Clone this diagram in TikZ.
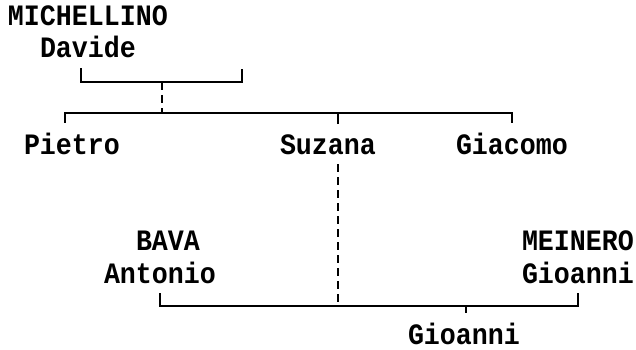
\documentclass[tikz,border=0pt]{standalone}
\usepackage{fontspec}
\setmonofont[FakeStretch = 0.9]{Liberation Mono}
\usetikzlibrary{positioning}
\tikzset{
  person/.style = {font = \fontsize{29.6}{34}\selectfont\ttfamily\bfseries,
    inner sep = 0, outer xsep = 0, outer ysep = 10pt, anchor = base west},
  bond/.style = {line width = 1.2pt},
  descent/.style = {bond, dash pattern = on 8pt off 5pt}
}

\begin{document}
\begin{tikzpicture} [x = 1pt, y = 1pt]
\useasboundingbox (0, 0) rectangle (636, -350);

%% First family
\node [person] (michellino) at (8, -26) {MICHELLINO};
\node [person, below right = 32pt and 32pt of michellino.base west, anchor = base west] (davide) {Davide};
\coordinate (spouseA) at (242, -69);
\coordinate (famA) at (162, -82);
\coordinate (sibs) at (162, -113);

%% Children
\node [person] (pietro) at (24, -154) {Pietro};
\node [person] (suzana) at (280, -154) {Suzana};
\node [person] (giacomo) at (456, -154) {Giacomo};

%% Second family
\node [person] (bava) at (136, -250) {BAVA};
\node [person, below left = 33pt and 32pt of bava.base west, anchor = base west] (antonio) {Antonio};
\node [person] (meinero) at (522, -250) {MEINERO};
\node [person, below = 33pt of meinero.base west, anchor = base west] (gioanniM) {Gioanni};
\coordinate (famB) at (466, -306);
\node [person] (gioanni) at (408, -344) {Gioanni};

%% Bonds
\draw [bond] ([xshift = -7pt] davide.south) |- (famA) -| (spouseA);
\draw [descent] (famA) -- (sibs);
\draw [bond] ([xshift = -7pt] pietro.north) |- (sibs) -| (giacomo.north);
\draw [bond] ([xshift = 10pt] suzana.north) -- ([xshift = 10pt] suzana.north |- sibs);

\draw [bond] (antonio.south) |- (famB) -| (gioanniM.south);
\draw [descent] ([xshift = 10pt] suzana.south) -- ([xshift = 10pt] suzana.south |- famB);
\draw [bond] (famB) -- (famB |- gioanni.north);

\end{tikzpicture}
\end{document}
